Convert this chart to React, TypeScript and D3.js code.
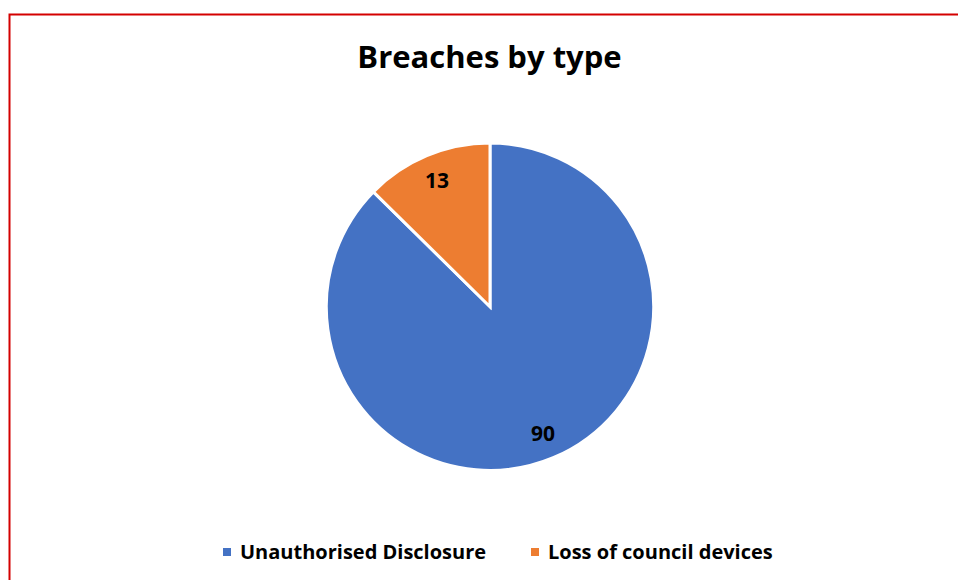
import React from "react";
import * as d3 from "d3";

const categories = ["Unauthorised Disclosure", "Loss of council devices"];
const values = [90, 13];
const colors = ["#4472C4", "#ED7D31"];
const title = "Breaches by type";

const W = 958;
const H = 580;
const cx = 490;
const cy = 306.7;
const R = 163.7;
const FONT = "'Open Sans', Lato, sans-serif";

export default function App() {
  const pie = d3.pie<number>().sort(null).value((d) => d)(values);
  const arc = d3.arc<d3.PieArcDatum<number>>().innerRadius(0).outerRadius(R);
  const labelArc = d3.arc<d3.PieArcDatum<number>>().innerRadius(R * 0.838).outerRadius(R * 0.838);

  const legendX = [223, 531];

  return (
    <svg
      width={W}
      height={H}
      style={{ position: "fixed", left: 0, top: 0, display: "block", background: "#fff" }}
    >
      <rect x={0} y={0} width={W} height={H} fill="#fff" />
      <path d={`M9.5,${H + 5} L9.5,14.5 L${W + 5},14.5`} fill="none" stroke="#D40000" strokeWidth={2} />
      <text
        x={489.5}
        y={68}
        textAnchor="middle"
        fontFamily={FONT}
        fontWeight="bold"
        fontSize={31}
        fill="#000"
      >
        {title}
      </text>
      <g transform={`translate(${cx},${cy})`}>
        {pie.map((d, i) => (
          <path key={i} d={arc(d) || ""} fill={colors[i]} stroke="#fff" strokeWidth={3} strokeLinejoin="miter" />
        ))}
        {pie.map((d, i) => {
          const [x, y] = labelArc.centroid(d);
          return (
            <text
              key={"l" + i}
              x={x}
              y={y}
              dy="0.36em"
              textAnchor="middle"
              fontFamily={FONT}
              fontWeight="bold"
              fontSize={21}
              fill="#000"
            >
              {d.data}
            </text>
          );
        })}
      </g>
      {categories.map((c, i) => (
        <g key={c}>
          <rect x={legendX[i]} y={548} width={8} height={8} fill={colors[i]} />
          <text
            x={legendX[i] + 17}
            y={558.5}
            fontFamily={FONT}
            fontWeight="bold"
            fontSize={20}
            fill="#000"
          >
            {c}
          </text>
        </g>
      ))}
    </svg>
  );
}
